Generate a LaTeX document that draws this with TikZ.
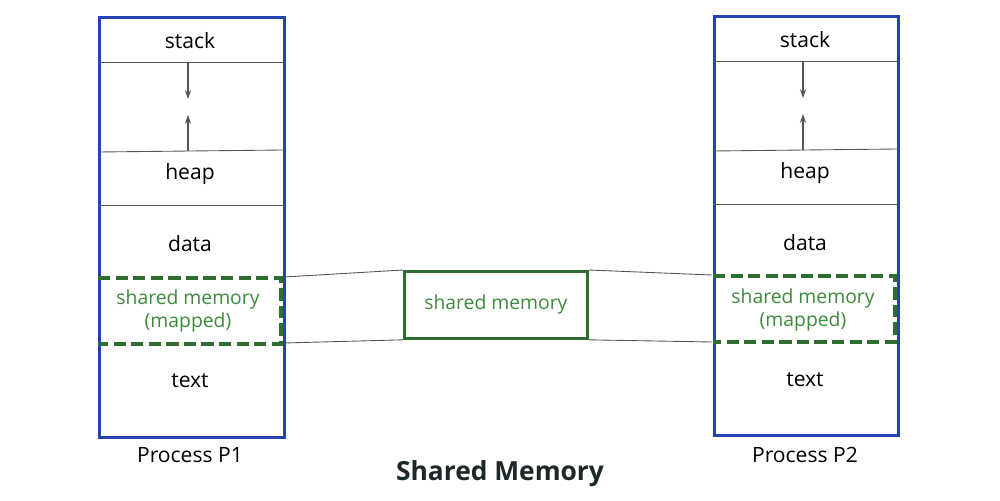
\documentclass[tikz,border=0pt]{standalone}
\usepackage{fontspec}
\setmainfont{Open Sans}
\usetikzlibrary{arrows.meta}
\definecolor{pblue}{HTML}{2343B0}
\definecolor{sgreen}{HTML}{2E6E30}
\definecolor{tgreen}{HTML}{3C8A3C}
\definecolor{lgray}{HTML}{555555}
\definecolor{ttl}{HTML}{1C2828}
\begin{document}
\begin{tikzpicture}[x=0.02cm,y=-0.02cm,
  procbox/.style={draw=pblue,line width=1.6pt},
  sep/.style={draw=lgray,line width=0.5pt},
  dashsh/.style={draw=sgreen,line width=1.8pt,dash pattern=on 7pt off 3pt},
  lbl/.style={font=\fontsize{12}{14}\selectfont,text=black},
  glbl/.style={font=\fontsize{11}{13}\selectfont,text=tgreen,align=center},
  growarr/.style={draw=lgray,line width=0.6pt,-{Stealth[length=5pt,width=3.5pt]}},
  link/.style={draw=lgray,line width=0.5pt}]
\useasboundingbox (0,0) rectangle (1000,500);
% Process P1
\node[procbox,minimum width=185*0.02cm,minimum height=420*0.02cm,inner sep=0,anchor=north west] (p1) at (98,16) {};
\coordinate (a1l) at (98,62); \coordinate (a1r) at (283,62);
\coordinate (b1l) at (98,152); \coordinate (b1r) at (283,150);
\coordinate (c1l) at (98,205); \coordinate (c1r) at (283,205);
\draw[sep] (a1l) -- (a1r);
\draw[sep] (b1l) -- (b1r);
\draw[sep] (c1l) -- (c1r);
\coordinate (s1tl) at (98,278); \coordinate (s1tr) at (281,278);
\coordinate (s1bl) at (98,344); \coordinate (s1br) at (281,344);
\draw[dashsh] (s1tl) -- (s1tr) -- (s1br) -- (s1bl);
\node[lbl] (stack1) at (190,41) {stack};
\node[lbl] (heap1) at (190,174) {heap};
\node[lbl] (data1) at (190,244) {data};
\node[glbl] (sh1) at (188,311) {shared memory\\(mapped)};
\node[lbl] (text1) at (190,381) {text};
\node[lbl] (name1) at (190,455) {Process P1};
\coordinate (d1s) at (188,63); \coordinate (d1e) at (188,99);
\coordinate (u1s) at (188,151); \coordinate (u1e) at (188,115);
\draw[growarr] (d1s) -- (d1e);
\draw[growarr] (u1s) -- (u1e);
% Process P2
\node[procbox,minimum width=184*0.02cm,minimum height=419*0.02cm,inner sep=0,anchor=north west] (p2) at (713,15) {};
\coordinate (a2l) at (713,61); \coordinate (a2r) at (897,61);
\coordinate (b2l) at (713,151); \coordinate (b2r) at (897,149);
\coordinate (c2l) at (713,204); \coordinate (c2r) at (897,204);
\draw[sep] (a2l) -- (a2r);
\draw[sep] (b2l) -- (b2r);
\draw[sep] (c2l) -- (c2r);
\coordinate (s2tl) at (713,276); \coordinate (s2tr) at (895,276);
\coordinate (s2bl) at (713,342); \coordinate (s2br) at (895,342);
\draw[dashsh] (s2tl) -- (s2tr) -- (s2br) -- (s2bl);
\node[lbl] (stack2) at (805,40) {stack};
\node[lbl] (heap2) at (805,173) {heap};
\node[lbl] (data2) at (805,243) {data};
\node[glbl] (sh2) at (803,310) {shared memory\\(mapped)};
\node[lbl] (text2) at (805,380) {text};
\node[lbl] (name2) at (805,455) {Process P2};
\coordinate (d2s) at (803,62); \coordinate (d2e) at (803,98);
\coordinate (u2s) at (803,150); \coordinate (u2e) at (803,114);
\draw[growarr] (d2s) -- (d2e);
\draw[growarr] (u2s) -- (u2e);
% Shared segment
\node[draw=sgreen,line width=1.6pt,minimum width=183*0.02cm,minimum height=67*0.02cm,inner sep=0,anchor=north west,glbl] (shm) at (403,270) {shared memory};
\coordinate (l1t) at (284,277); \coordinate (l1b) at (284,343);
\coordinate (r2t) at (712,275); \coordinate (r2b) at (712,342);
\draw[link] (l1t) -- (shm.north west);
\draw[link] (l1b) -- (shm.south west);
\draw[link] (shm.north east) -- (r2t);
\draw[link] (shm.south east) -- (r2b);
% title
\node[font=\fontsize{15}{18}\selectfont\bfseries,text=ttl] (title) at (500,474) {Shared Memory};
\end{tikzpicture}
\end{document}
